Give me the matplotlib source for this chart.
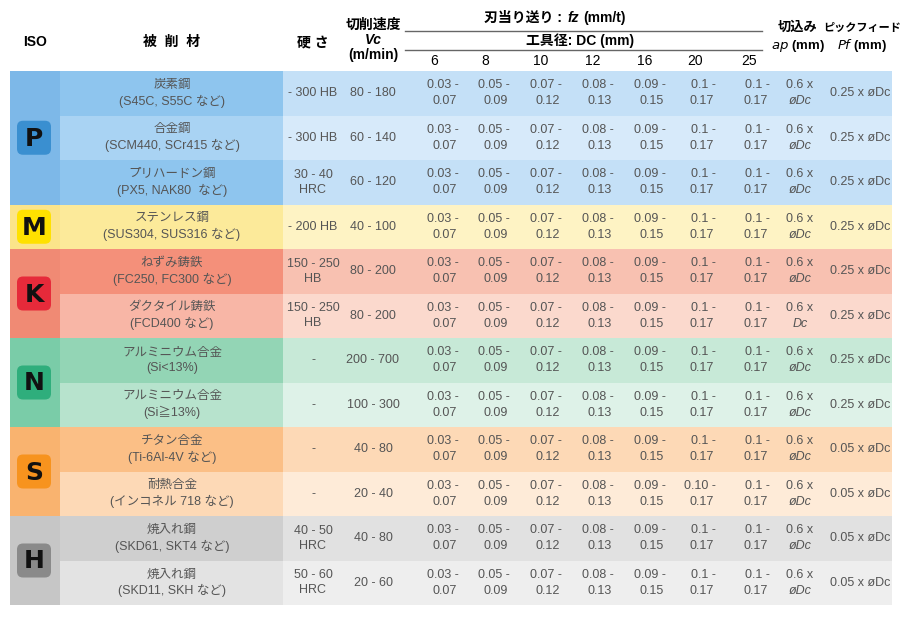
import matplotlib.pyplot as plt
from matplotlib.patches import Rectangle, FancyBboxPatch

plt.rcParams["font.family"] = ["Liberation Sans", "Noto Sans CJK JP"]

groups = ["P", "M", "K", "N", "S", "H"]
group_rows = [3, 1, 2, 2, 2, 2]
materials = ["炭素鋼\n(S45C, S55C など)", "合金鋼\n(SCM440, SCr415 など)", "プリハードン鋼\n(PX5, NAK80  など)",
             "ステンレス鋼\n(SUS304, SUS316 など)", "ねずみ鋳鉄\n(FC250, FC300 など)", "ダクタイル鋳鉄\n(FCD400 など)",
             "アルミニウム合金\n(Si<13%)", "アルミニウム合金\n(Si≧13%)", "チタン合金\n(Ti-6Al-4V など)",
             "耐熱合金\n(インコネル 718 など)", "焼入れ鋼\n(SKD61, SKT4 など)", "焼入れ鋼\n(SKD11, SKH など)"]
hardness = ["- 300 HB", "- 300 HB", "30 - 40\nHRC", "- 200 HB", "150 - 250\nHB", "150 - 250\nHB",
            "-", "-", "-", "-", "40 - 50\nHRC", "50 - 60\nHRC"]
vc = ["80 - 180", "60 - 140", "60 - 120", "40 - 100", "80 - 200", "80 - 200",
      "200 - 700", "100 - 300", "40 - 80", "20 - 40", "40 - 80", "20 - 60"]
diameters = ["6", "8", "10", "12", "16", "20", "25"]
fz_lo = ["0.03", "0.05", "0.07", "0.08", "0.09", "0.1", "0.1"]
fz_hi = ["0.07", "0.09", "0.12", "0.13", "0.15", "0.17", "0.17"]
ap = ["øDc"] * 5 + ["Dc"] + ["øDc"] * 6
pf = ["0.25"] * 8 + ["0.05"] * 4

badge_col = ["#3a8fd0", "#ffe100", "#e62a3a", "#2fae7c", "#f7931e", "#8a8a8a"]
iso_col = ["#7db8e8", "#fbe48a", "#f08a74", "#7acca8", "#f9b36f", "#c6c6c6"]
mat_col = [["#8ec5ee", "#a9d3f3"], ["#fcea9a"], ["#f4907a", "#f8b6a6"], ["#93d5b5", "#b7e3cd"],
           ["#fbbf86", "#fdd9b6"], ["#cfcfcf", "#e3e3e3"]]
dat_col = [["#c4e0f7", "#d7eafa"], ["#fef3c4"], ["#f8c1b1", "#fbd9cd"], ["#c7e9d7", "#def2e8"],
           ["#fdd9b6", "#feebd8"], ["#e1e1e1", "#eeeeee"]]

fig = plt.figure(figsize=(9, 6.18), dpi=100)
ax = fig.add_axes([0, 0, 1, 1])
ax.set_xlim(0, 900)
ax.set_ylim(618, 0)
ax.axis("off")

top, rh = 71, 44.5
x0, x_iso, x_mat, x_end = 10, 60, 283, 892
dcx = [459, 510, 562, 614, 666, 716, 770]
gray = "#555555"

r = 0
for g, n in enumerate(group_rows):
    y0 = top + r * rh
    ax.add_patch(Rectangle((x0, y0), x_iso - x0, n * rh, color=iso_col[g], lw=0))
    for k in range(n):
        i = r + k
        y = top + i * rh
        mc = mat_col[g][k % len(mat_col[g])]
        dc = dat_col[g][k % len(dat_col[g])]
        ax.add_patch(Rectangle((x_iso, y), x_mat - x_iso, rh, color=mc, lw=0))
        ax.add_patch(Rectangle((x_mat, y), x_end - x_mat, rh, color=dc, lw=0))
        cy = y + rh / 2
        ax.text(172, cy, materials[i], ha="center", va="center", fontsize=9, color=gray, linespacing=1.35)
        ax.text(313, cy, hardness[i], ha="center", va="center", fontsize=9, color=gray, linespacing=1.35)
        ax.text(373, cy, vc[i], ha="center", va="center", fontsize=9, color=gray)
        for j, xx in enumerate(dcx):
            lo = fz_lo[j]
            if i == 9 and j == 5:
                lo = "0.10"
            ax.text(xx, cy - 8, lo + " -", ha="right", va="center", fontsize=9, color=gray)
            ax.text(xx - 2, cy + 8, fz_hi[j], ha="right", va="center", fontsize=9, color=gray)
        ax.text(800, cy - 8, "0.6 x", ha="center", va="center", fontsize=9, color=gray)
        ax.text(800, cy + 8, ap[i], ha="center", va="center", fontsize=9, color=gray, style="italic")
        ax.text(860, cy, pf[i] + " x øDc", ha="center", va="center", fontsize=9, color=gray)
    gc = y0 + n * rh / 2
    ax.add_patch(FancyBboxPatch((17, gc - 17), 34, 34, boxstyle="round,pad=0,rounding_size=6",
                                color=badge_col[g], lw=0))
    ax.text(34, gc + 1, groups[g], ha="center", va="center", fontsize=18, fontweight="bold",
            color="#111111", family="DejaVu Sans")
    r += n

# header
hd = dict(va="center", fontsize=10, fontweight="bold")
ax.text(35, 42, "ISO", ha="center", **hd)
ax.text(172, 42, "被  削  材", ha="center", **hd)
ax.text(313, 42, "硬 さ", ha="center", **hd)
ax.text(373, 25, "切削速度", ha="center", **hd)
ax.text(373, 40, "Vc", ha="center", style="italic", **hd)
ax.text(373, 55, "(m/min)", ha="center", **hd)
ax.text(566, 18, "刃当り送り : ", ha="right", **hd)
ax.text(567, 18, "fz", ha="left", style="italic", **hd)
ax.text(583, 18, "(mm/t)", ha="left", **hd)
ax.plot([405, 762], [31, 31], color="#666666", lw=1)
ax.text(580, 41, "工具径: DC (mm)", ha="center", **hd)
ax.plot([405, 762], [50, 50], color="#666666", lw=1)
for j, d in enumerate(diameters):
    ax.text(dcx[j] - 29, 61, d, ha="left", va="center", fontsize=10)
ax.text(798, 28, "切込み", ha="center", va="center", fontsize=9.5, fontweight="bold")
ax.text(798, 46, "$\\it{ap}$ (mm)", ha="center", va="center", fontsize=9.5, fontweight="bold")
ax.text(862, 28, "ピックフィード", ha="center", va="center", fontsize=8, fontweight="bold")
ax.text(862, 46, "$\\it{Pf}$ (mm)", ha="center", va="center", fontsize=9.5, fontweight="bold")

fig.savefig("out.png", dpi=100)
